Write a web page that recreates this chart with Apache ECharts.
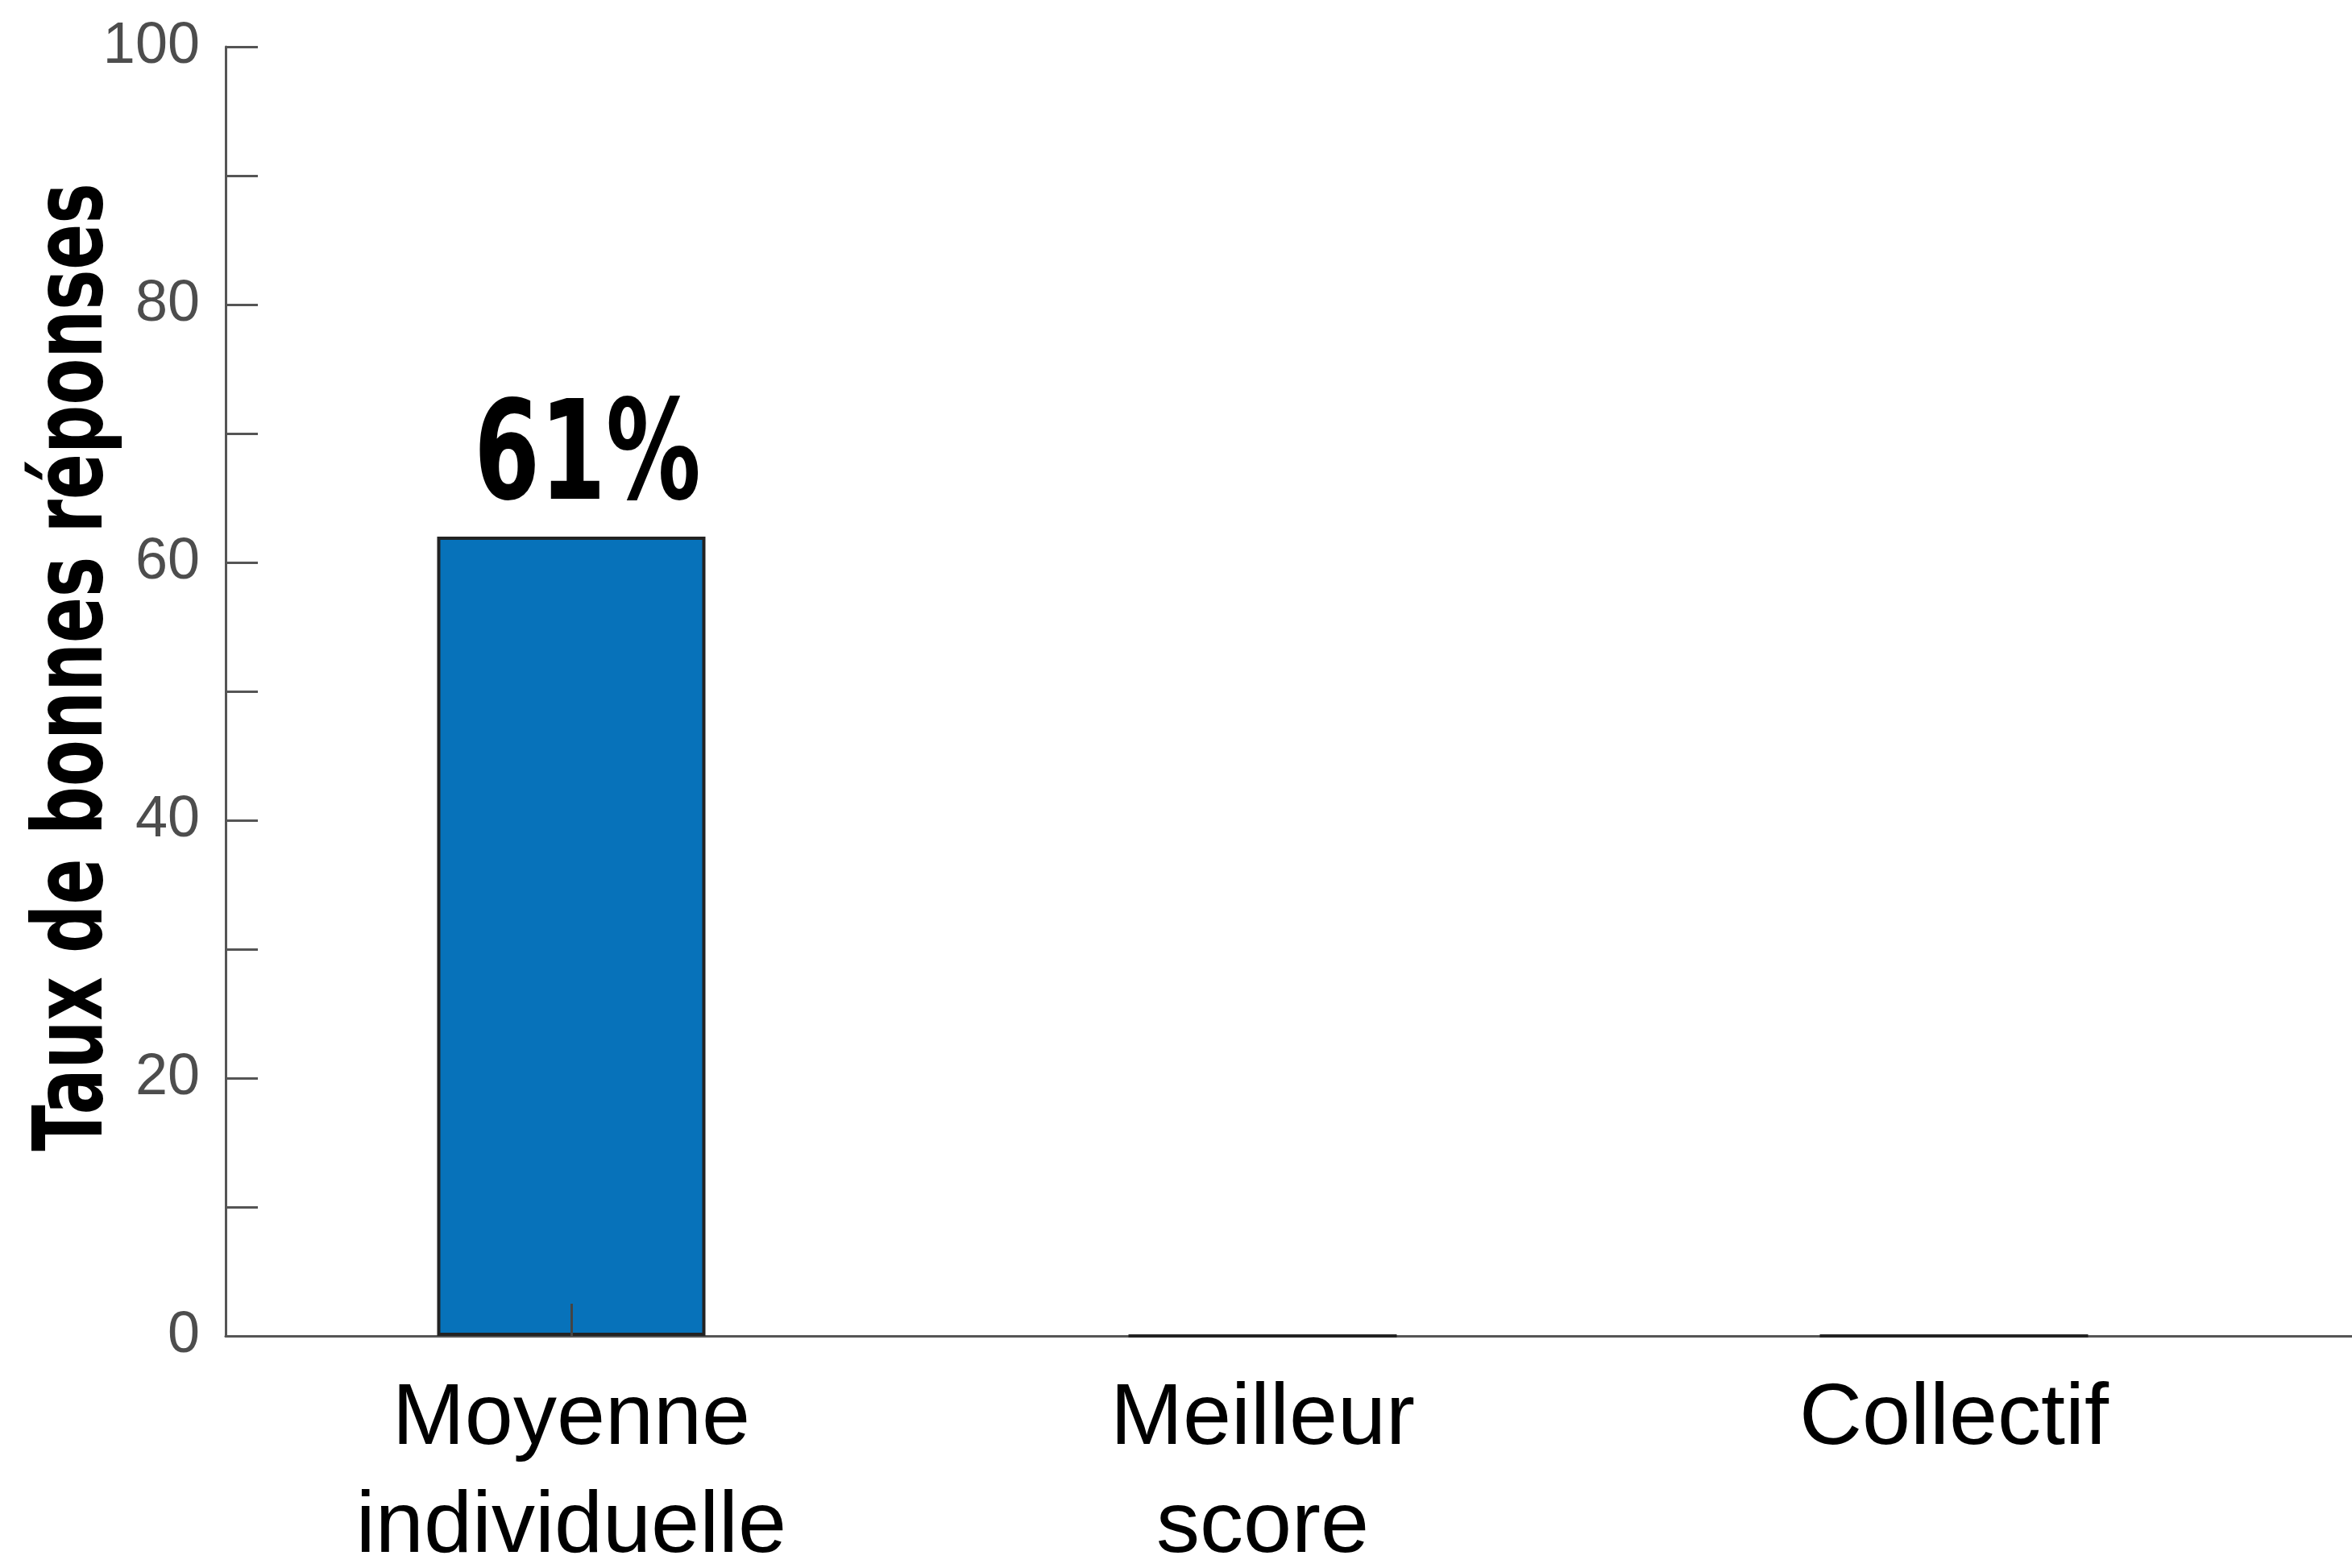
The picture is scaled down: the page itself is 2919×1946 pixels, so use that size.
<!DOCTYPE html>
<html>
<head>
<meta charset="utf-8">
<script src="https://cdn.jsdelivr.net/npm/echarts@6/dist/echarts.min.js"></script>
<style>
html,body{margin:0;padding:0;background:#fff;}
#chart{width:2919px;height:1946px;}
</style>
</head>
<body>
<div id="chart"></div>
<script>
const categories = ['Moyenne\nindividuelle', 'Meilleur\nscore', 'Collectif'];
const values = [62, 0, 0];
const barLabels = ['61%', '', ''];
const yTickLabels = [0, 20, 40, 60, 80, 100];
const yAxisTitle = 'Taux de bonnes réponses';

const chart = echarts.init(document.getElementById('chart'), null, {renderer: 'canvas'});
const condensed = "'DejaVu Sans Condensed', 'DejaVu Sans', sans-serif";
const option = {
  animation: false,
  backgroundColor: '#ffffff',
  grid: [
    {left: 280, right: 65, top: 58, bottom: 288, containLabel: false, outerBoundsMode: 'none'},
    {left: 280, right: 0, top: 58, bottom: 288, containLabel: false, outerBoundsMode: 'none'}
  ],
  graphic: [
    {
      type: 'text',
      x: 95, y: 828,
      rotation: Math.PI / 2,
      scaleX: 0.78,
      style: {
        text: yAxisTitle,
        fontFamily: condensed, fontWeight: 'bold', fontSize: 120,
        fill: '#000000', align: 'center', verticalAlign: 'middle'
      }
    }
  ],
  xAxis: [
    {
      type: 'category',
      gridIndex: 0,
      data: categories,
      z: 5,
      axisLine: {show: false},
      axisTick: {
        show: true, inside: true, length: 40, alignWithLabel: true,
        interval: function (i) { return i === 0; },
        lineStyle: {color: '#444444', width: 3}
      },
      axisLabel: {
        show: true, interval: 0, margin: 37,
        fontFamily: "'Liberation Sans', Arial, sans-serif",
        fontSize: 108, lineHeight: 134, color: '#000000'
      },
      splitLine: {show: false}
    },
    {
      type: 'value',
      gridIndex: 1,
      min: 0, max: 1,
      z: 1,
      axisLine: {show: true, lineStyle: {color: '#555555', width: 3}},
      axisTick: {show: false},
      axisLabel: {show: false},
      splitLine: {show: false}
    }
  ],
  yAxis: [
    {
      type: 'value',
      gridIndex: 0,
      min: 0, max: 100, interval: 10,
      z: 5,
      axisLine: {show: true, lineStyle: {color: '#555555', width: 3}},
      axisTick: {show: true, inside: true, length: 40, lineStyle: {color: '#555555', width: 3}},
      axisLabel: {
        show: true, margin: 32,
        fontFamily: "'Liberation Sans', Arial, sans-serif",
        fontSize: 72, color: '#4d4d4d',
        verticalAlign: 'middle',
        padding: [0, 0, 14, 0],
        formatter: function (v) { return yTickLabels.indexOf(v) >= 0 ? String(v) : ''; }
      },
      splitLine: {show: false}
    },
    {
      type: 'value', gridIndex: 1, show: false, min: 0, max: 1
    }
  ],
  series: [
    {
      type: 'bar',
      xAxisIndex: 0,
      yAxisIndex: 0,
      data: values,
      barWidth: 333,
      z: 3,
      itemStyle: {color: '#0772BA', borderColor: '#222222', borderWidth: 4}
    },
    {
      type: 'custom',
      xAxisIndex: 0,
      yAxisIndex: 0,
      data: values.map(function (v, i) { return [i, v]; }),
      z: 6,
      renderItem: function (params, api) {
        const pt = api.coord([api.value(0), api.value(1)]);
        return {
          type: 'text',
          x: pt[0] + 20,
          y: pt[1] - 6,
          scaleX: 0.76,
          style: {
            text: barLabels[params.dataIndex],
            fontFamily: condensed, fontWeight: 'bold', fontSize: 172,
            fill: '#000000', align: 'center', verticalAlign: 'bottom'
          }
        };
      }
    }
  ]
};
chart.setOption(option);
</script>
</body>
</html>
